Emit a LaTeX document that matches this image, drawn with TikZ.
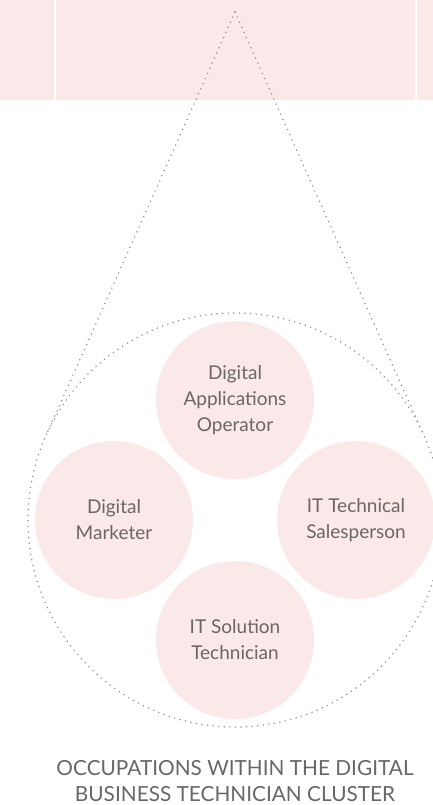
\documentclass[tikz,border=0pt]{standalone}
\usepackage{fontspec}
\setmainfont{Lato}
\usetikzlibrary{calc}
\definecolor{pinkfill}{HTML}{FBE9EA}
\definecolor{dotgray}{HTML}{9A9292}
\definecolor{textgray}{HTML}{6A6666}
\tikzset{
  occ/.style={circle, fill=pinkfill, minimum size=158pt, inner sep=0pt, align=center,
    text=textgray, font=\fontsize{19}{26}\selectfont},
  dotline/.style={draw=dotgray, line width=1.7pt, line cap=round, dash pattern=on 0pt off 5.6pt},
}
\begin{document}
\begin{tikzpicture}[x=1pt,y=-1pt]
\useasboundingbox (0,0) rectangle (433,805);
% top band
\fill[pinkfill] (0,0) rectangle (53.5,100);
\fill[pinkfill] (56,0) rectangle (414.5,100);
\fill[pinkfill] (417,0) rectangle (433,100);
% teardrop
\coordinate (apex) at (235,12);
\coordinate (cc) at (235,520);
\coordinate (tl) at (46,435.6);
\coordinate (tr) at (424,435.6);
\draw[dotline] (cc) circle[radius=207];
\draw[dotline] (apex) -- (tl);
\draw[dotline] (apex) -- (tr);
% occupation circles
\node[occ] (dao) at (235,400) {Digital\\Applications\\Operator};
\node[occ] (dm) at (114,520) {Digital\\Marketer};
\node[occ] (its) at (356,520) {IT Technical\\Salesperson};
\node[occ] (ist) at (235,640) {IT Solution\\Technician};
% caption
\node[text=textgray, align=center, font=\fontsize{20.8}{26}\selectfont] (cap) at (235,781)
  {OCCUPATIONS WITHIN THE DIGITAL\\BUSINESS TECHNICIAN CLUSTER};
\end{tikzpicture}
\end{document}
